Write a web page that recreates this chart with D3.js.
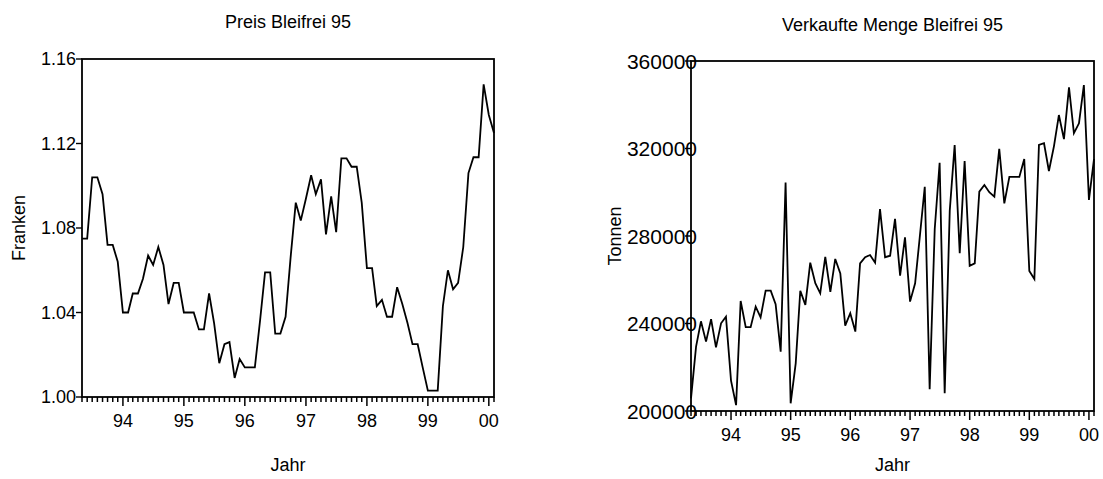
<!DOCTYPE html>
<html>
<head>
<meta charset="utf-8">
<script src="https://cdn.jsdelivr.net/npm/d3@7"></script>
<style>
  body { margin: 0; background: #fff; }
  text { font-family: "Liberation Sans", Arial, sans-serif; fill: #000; }
</style>
</head>
<body>
<svg width="1103" height="479"></svg>
<script>
// monthly observations, May 1993 .. Feb 2000
const months = d3.timeMonth.range(new Date(1993, 4, 1), new Date(2000, 2, 1));

// Preis Bleifrei 95 (Franken)
const preis = [
  1.075, 1.075, 1.104, 1.104, 1.096, 1.072, 1.072, 1.064, 1.040, 1.040,
  1.049, 1.049, 1.056, 1.067, 1.0625, 1.071, 1.0625, 1.044, 1.054, 1.054,
  1.040, 1.040, 1.040, 1.032, 1.032, 1.049, 1.035, 1.016, 1.025, 1.026,
  1.009, 1.018, 1.014, 1.014, 1.014, 1.036, 1.059, 1.059, 1.030, 1.030,
  1.038, 1.066, 1.092, 1.0835, 1.094, 1.105, 1.096, 1.103, 1.077, 1.095,
  1.078, 1.113, 1.113, 1.109, 1.109, 1.092, 1.061, 1.061, 1.043, 1.046,
  1.038, 1.038, 1.052, 1.044, 1.035, 1.025, 1.025, 1.014, 1.003, 1.003,
  1.003, 1.043, 1.060, 1.051, 1.054, 1.071, 1.106, 1.1135, 1.1135, 1.148,
  1.1335, 1.125
];

// Verkaufte Menge Bleifrei 95 (Tonnen)
const menge = [
  205800, 229400, 241000, 231700, 242000, 229100, 240100, 243100, 213900, 202700,
  250300, 238300, 238300, 247700, 242800, 255000, 255000, 248800, 227100, 304400,
  203500, 221800, 255000, 248500, 267800, 258400, 253800, 270500, 254500, 269500,
  262900, 239000, 244700, 236300, 267500, 270300, 271300, 267800, 292300, 270300,
  271000, 287800, 261900, 279400, 250000, 258400, 279200, 302500, 209900, 283200,
  313500, 208100, 291600, 321600, 272100, 314300, 266400, 267500, 300300, 303300,
  300000, 298000, 319800, 294900, 307000, 307000, 307000, 315200, 264000, 260300,
  321600, 322400, 309700, 321100, 335300, 324300, 348000, 327000, 331500, 349000,
  296500, 315200
];

const preisTicks = [1.00, 1.04, 1.08, 1.12, 1.16];
const mengeTicks = [200000, 240000, 280000, 320000, 360000];

const svg = d3.select("svg");

function panel(o) {
  const x = d3.scaleTime()
    .domain([months[0], months[months.length - 1]])
    .range([o.x0, o.x1]);
  const y = d3.scaleLinear().domain(o.ydomain).range([o.y1, o.y0]);
  const g = svg.append("g");

  // title
  g.append("text")
    .attr("x", (o.x0 + o.x1) / 2).attr("y", o.titleY)
    .attr("text-anchor", "middle").style("font-size", "18px")
    .text(o.title);

  // y axis label
  g.append("text")
    .attr("transform", `translate(${o.ylabX},${(o.y0 + o.y1) / 2}) rotate(-90)`)
    .attr("text-anchor", "middle").style("font-size", "18px")
    .text(o.ylabel);

  // x axis label
  g.append("text")
    .attr("x", (o.x0 + o.x1) / 2).attr("y", 471)
    .attr("text-anchor", "middle").style("font-size", "18px")
    .text("Jahr");

  // frame
  g.append("rect")
    .attr("x", o.x0).attr("y", o.y0)
    .attr("width", o.x1 - o.x0).attr("height", o.y1 - o.y0)
    .attr("fill", "none").attr("stroke", "#000").attr("stroke-width", 1.8);

  // y ticks
  g.selectAll(".yt").data(o.yticks).join("line")
    .attr("x1", o.x0 - 6).attr("x2", o.x0)
    .attr("y1", d => y(d)).attr("y2", d => y(d))
    .attr("stroke", "#000").attr("stroke-width", 1.4);
  g.selectAll(".yl").data(o.yticks).join("text")
    .attr("x", o.ylabEnd).attr("y", d => y(d) + o.yfont * 0.36)
    .attr("text-anchor", "end").style("font-size", o.yfont + "px")
    .text(o.yfmt);

  // x ticks: monthly minor, yearly major
  const years = months.filter(d => d.getMonth() === 0);
  g.selectAll(".mt").data(months).join("line")
    .attr("x1", d => x(d)).attr("x2", d => x(d))
    .attr("y1", o.y1).attr("y2", d => o.y1 + (d.getMonth() === 0 ? 9 : 5))
    .attr("stroke", "#000").attr("stroke-width", 1.5);
  g.selectAll(".xl").data(years).join("text")
    .attr("x", d => x(d)).attr("y", o.xlabY)
    .attr("text-anchor", "middle").style("font-size", "18px")
    .text(d3.timeFormat("%y"));

  // series
  const line = d3.line().x((d, i) => x(months[i])).y(d => y(d));
  g.append("path")
    .datum(o.values)
    .attr("d", line)
    .attr("fill", "none").attr("stroke", "#000")
    .attr("stroke-width", 1.8).attr("stroke-linejoin", "miter");
}

panel({
  title: "Preis Bleifrei 95", ylabel: "Franken", values: preis,
  ydomain: [1.00, 1.16], yticks: preisTicks, yfmt: d3.format(".2f"),
  x0: 82, x1: 494, y0: 59, y1: 397,
  titleY: 28, ylabX: 25, ylabEnd: 76, yfont: 18, xlabY: 427
});

panel({
  title: "Verkaufte Menge Bleifrei 95", ylabel: "Tonnen", values: menge,
  ydomain: [200000, 360000], yticks: mengeTicks, yfmt: d3.format("d"),
  x0: 691, x1: 1094, y0: 61, y1: 411,
  titleY: 31, ylabX: 621, ylabEnd: 697, yfont: 21, xlabY: 441
});
</script>
</body>
</html>
